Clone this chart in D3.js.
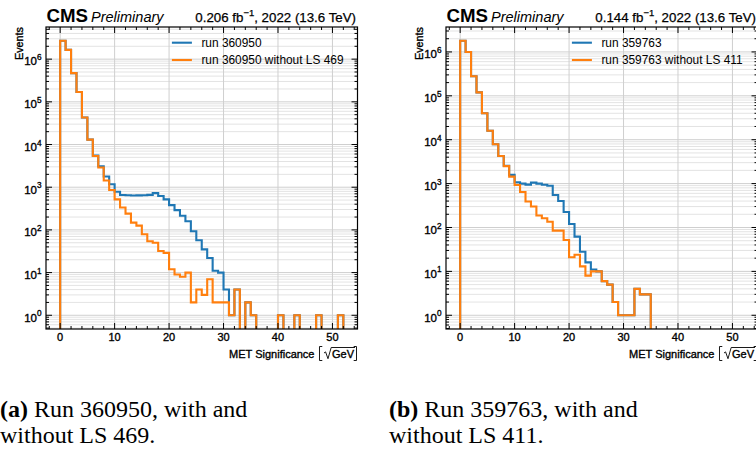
<!DOCTYPE html>
<html>
<head>
<meta charset="utf-8">
<script src="https://cdn.jsdelivr.net/npm/d3@7"></script>
<style>
  html, body { margin: 0; padding: 0; background: #fff; }
  svg { display: block; }
  .sans { font-family: "Liberation Sans", Arial, Helvetica, sans-serif; }
  .serif { font-family: "Liberation Serif", "Times New Roman", serif; }
</style>
</head>
<body>
<svg id="fig" width="756" height="454"></svg>
<script>
// MET significance histograms, unit-width bins from 0 to 52
const binEdges = d3.range(0, 53);
const xTickValues = [0, 10, 20, 30, 40, 50];
const yTickExponents = [0, 1, 2, 3, 4, 5, 6];

// run 360950: all lumisections / with LS 469 removed
const run360950 = [
  2.7e6, 1.65e6, 4.7e5, 1.7e5, 4.3e4, 1.3e4, 5500, 3100, 1780, 1170,
  780, 655, 650, 640, 645, 650, 660, 725, 620, 520,
  380, 290, 215, 160, 93, 57, 35, 22, 11, 10,
  4, 1, 4, 0, 2, 1, 0, 0, 0, 0,
  1, 0, 0, 1, 0, 0, 0, 1, 0, 0,
  0, 1
];
const run360950NoLS469 = [
  2.7e6, 1.65e6, 4.7e5, 1.7e5, 4.3e4, 1.3e4, 5400, 2900, 1440, 860,
  520, 335, 240, 148, 126, 79, 54, 50, 32, 29,
  12, 9, 8, 10, 2, 4, 3, 7, 2, 2,
  2, 1, 4, 0, 2, 1, 0, 0, 0, 0,
  1, 0, 0, 1, 0, 0, 0, 1, 0, 0,
  0, 1
];

// run 359763: all lumisections / with LS 411 removed
const run359763 = [
  1.8e6, 1.0e6, 2.8e5, 1.2e5, 4.0e4, 1.6e4, 7900, 4250, 2550, 1580,
  1070, 1000, 950, 1050, 1000, 940, 890, 550, 400, 225,
  120, 62, 28, 16, 11, 10, 6, 5, 2, 1,
  1, 1, 4, 3, 3, 0, 0, 0, 0, 0,
  0, 0, 0, 0, 0, 0, 0, 0, 0, 0,
  0, 0
];
const run359763NoLS411 = [
  1.8e6, 1.0e6, 2.8e5, 1.2e5, 4.0e4, 1.6e4, 7900, 4250, 2500, 1440,
  930, 645, 390, 300, 188, 163, 135, 85, 85, 52,
  21, 24, 13, 8, 10, 10, 6, 5, 2, 1,
  1, 1, 4, 3, 3, 0, 0, 0, 0, 0,
  0, 0, 0, 0, 0, 0, 0, 0, 0, 0,
  0, 0
];

const seriesColors = ["#1f77b4", "#ff7f0e"];

const panels = [
  {
    left: 46, lumi: "0.206", run: "360950", ls: "469",
    full: run360950, veto: run360950NoLS469,
    tag: "(a)", capX: 0
  },
  {
    left: 446, lumi: "0.144", run: "359763", ls: "411",
    full: run359763, veto: run359763NoLS411,
    tag: "(b)", capX: 389
  }
];

const svg = d3.select("#fig");
const plotW = 311.5, plotTop = 27, plotBottom = 329;

panels.forEach((p, pi) => {
  const g = svg.append("g").attr("class", "sans");
  const x0 = p.left, x1 = p.left + plotW;

  // x: bin range with 5% margins
  const lo = binEdges[0], hi = binEdges[binEdges.length - 1];
  const xPad = 0.05 * (hi - lo);
  const x = d3.scaleLinear().domain([lo - xPad, hi + xPad]).range([x0, x1]);

  // y: log scale, 5% margins in decades around [1, max]
  const L = Math.log10(d3.max(p.full.concat(p.veto)));
  const y = d3.scaleLog().domain([10 ** (-0.05 * L), 10 ** (1.05 * L)]).range([plotBottom, plotTop]);
  const floorVal = y.domain()[0] / 100;

  // grid
  const grid = g.append("g");
  for (let e = -1; e <= 7; e++) {
    for (let k = 1; k <= 9; k++) {
      const v = k * 10 ** e;
      if (v < y.domain()[0] || v > y.domain()[1]) continue;
      grid.append("line")
        .attr("x1", x0).attr("x2", x1)
        .attr("y1", y(v)).attr("y2", y(v))
        .attr("stroke", k === 1 ? "#cfcfcf" : "#dcdcdc")
        .attr("stroke-width", k === 1 ? 1 : 0.8);
    }
  }
  xTickValues.forEach(v => {
    grid.append("line")
      .attr("x1", x(v)).attr("x2", x(v))
      .attr("y1", plotTop).attr("y2", plotBottom)
      .attr("stroke", "#cfcfcf").attr("stroke-width", 1);
  });

  // clip to the axes frame
  const clipId = "clip" + pi;
  g.append("clipPath").attr("id", clipId)
    .append("rect").attr("x", x0).attr("y", plotTop).attr("width", plotW).attr("height", plotBottom - plotTop);

  // step histograms
  const stepLine = d3.line().x(d => x(d[0])).y(d => y(d[1]));
  function stepPoints(vals) {
    const pts = [[binEdges[0], floorVal]];
    vals.forEach((v, i) => {
      const vv = v > 0 ? v : floorVal;
      pts.push([binEdges[i], vv]);
      pts.push([binEdges[i + 1], vv]);
    });
    pts.push([binEdges[vals.length], floorVal]);
    return pts;
  }
  const hists = g.append("g").attr("clip-path", `url(#${clipId})`);
  [p.full, p.veto].forEach((vals, si) => {
    hists.append("path")
      .attr("d", stepLine(stepPoints(vals)))
      .attr("fill", "none")
      .attr("stroke", seriesColors[si])
      .attr("stroke-width", 2.1)
      .attr("stroke-linejoin", "miter");
  });

  // frame
  g.append("rect").attr("x", x0).attr("y", plotTop).attr("width", plotW).attr("height", plotBottom - plotTop)
    .attr("fill", "none").attr("stroke", "#000").attr("stroke-width", 1.2);

  // ticks (inward, all four sides)
  const ticks = g.append("g").attr("stroke", "#000").attr("stroke-width", 1);
  const [dx0, dx1] = x.domain();
  for (let v = Math.ceil(dx0 / 2) * 2; v <= dx1; v += 2) {
    const len = v % 10 === 0 ? 6 : 3;
    ticks.append("line").attr("x1", x(v)).attr("x2", x(v)).attr("y1", plotBottom).attr("y2", plotBottom - len);
    ticks.append("line").attr("x1", x(v)).attr("x2", x(v)).attr("y1", plotTop).attr("y2", plotTop + len);
  }
  for (let e = -1; e <= 7; e++) {
    for (let k = 1; k <= 9; k++) {
      const v = k * 10 ** e;
      if (v < y.domain()[0] || v > y.domain()[1]) continue;
      const len = k === 1 ? 6 : 3;
      ticks.append("line").attr("x1", x0).attr("x2", x0 + len).attr("y1", y(v)).attr("y2", y(v));
      ticks.append("line").attr("x1", x1).attr("x2", x1 - len).attr("y1", y(v)).attr("y2", y(v));
    }
  }

  // tick labels
  const lab = g.append("g").attr("fill", "#000").attr("stroke", "#000").attr("stroke-width", 0.35);
  xTickValues.forEach(v => {
    lab.append("text").attr("x", x(v)).attr("y", plotBottom + 12.3)
      .attr("text-anchor", "middle").attr("font-size", 11).text(v);
  });
  yTickExponents.forEach(e => {
    const t = lab.append("text").attr("x", x0 - 4.5).attr("y", y(10 ** e) + 6.3)
      .attr("text-anchor", "end").attr("font-size", 11.5);
    t.append("tspan").text("10");
    t.append("tspan").attr("dy", -5.2).attr("font-size", 8.2).text(e);
  });

  // y axis title
  lab.append("text")
    .attr("transform", `translate(${x0 - 23.3},${plotTop}) rotate(-90)`)
    .attr("text-anchor", "end").attr("font-size", 10.8).text("Events");

  // x axis title: MET Significance [√GeV]
  const xl = lab.append("g");
  const base = 357.5;
  const t1 = xl.append("text").attr("x", 0).attr("y", base).attr("font-size", 11).text("MET Significance");
  let cx = t1.node().getComputedTextLength() + 5;
  xl.append("path")
    .attr("d", `M${cx + 2.8},${base - 11} H${cx} V${base + 3} H${cx + 2.8}`)
    .attr("fill", "none").attr("stroke-width", 0.9);
  cx += 4.5;
  const gev = xl.append("text").attr("x", cx + 8).attr("y", base).attr("font-size", 11).text("GeV");
  const wg = gev.node().getComputedTextLength();
  xl.append("path")
    .attr("d", `M${cx},${base - 4.5} L${cx + 1.6},${base - 5.6} L${cx + 4},${base + 1.2} L${cx + 7.2},${base - 10} H${cx + 8 + wg + 1}`)
    .attr("fill", "none").attr("stroke-width", 0.9);
  cx += 8 + wg + 2.5;
  xl.append("path")
    .attr("d", `M${cx - 2.8},${base - 11} H${cx} V${base + 3} H${cx - 2.8}`)
    .attr("fill", "none").attr("stroke-width", 0.9);
  xl.attr("transform", `translate(${x1 - 1 - cx},0)`);

  // header: CMS Preliminary and luminosity
  const hdr = g.append("g").attr("fill", "#000");
  const cms = hdr.append("text").attr("x", x0 + 0.5).attr("y", 21.6)
    .attr("font-size", 18.7).attr("font-weight", "bold").text("CMS");
  const cmsW = cms.node().getComputedTextLength();
  hdr.append("text").attr("x", x0 + 0.5 + cmsW + 3).attr("y", 21.6)
    .attr("font-size", 14.5).attr("font-style", "italic").text("Preliminary");
  const lumi = hdr.append("text").attr("x", x1 - 1.5).attr("y", 21.6)
    .attr("text-anchor", "end").attr("font-size", 13.3)
    .attr("stroke", "#000").attr("stroke-width", 0.25);
  lumi.append("tspan").text(`${p.lumi} fb`);
  lumi.append("tspan").attr("dy", -5.5).attr("font-size", 9.5).text("\u22121");
  lumi.append("tspan").attr("dy", 5.5).text(", 2022 (13.6 TeV)");

  // legend
  const legLabels = [`run ${p.run}`, `run ${p.run} without LS ${p.ls}`];
  const legX = x1 - 185.6;
  legLabels.forEach((txt, i) => {
    const ly = 42.7 + i * 17.3;
    g.append("line").attr("x1", legX).attr("x2", legX + 20).attr("y1", ly).attr("y2", ly)
      .attr("stroke", seriesColors[i]).attr("stroke-width", 2.1);
    g.append("text").attr("x", legX + 29.5).attr("y", ly + 4.1)
      .attr("font-size", 11.9).attr("fill", "#000").text(txt);
  });

  // sub-figure caption
  const cap = svg.append("g").attr("class", "serif").attr("font-size", 24).attr("fill", "#000");
  const c1 = cap.append("text").attr("x", p.capX).attr("y", 417);
  c1.append("tspan").attr("font-weight", "bold").text(p.tag);
  c1.append("tspan").text(` Run ${p.run}, with and`);
  cap.append("text").attr("x", p.capX).attr("y", 443).text(`without LS ${p.ls}.`);
});
</script>
</body>
</html>
